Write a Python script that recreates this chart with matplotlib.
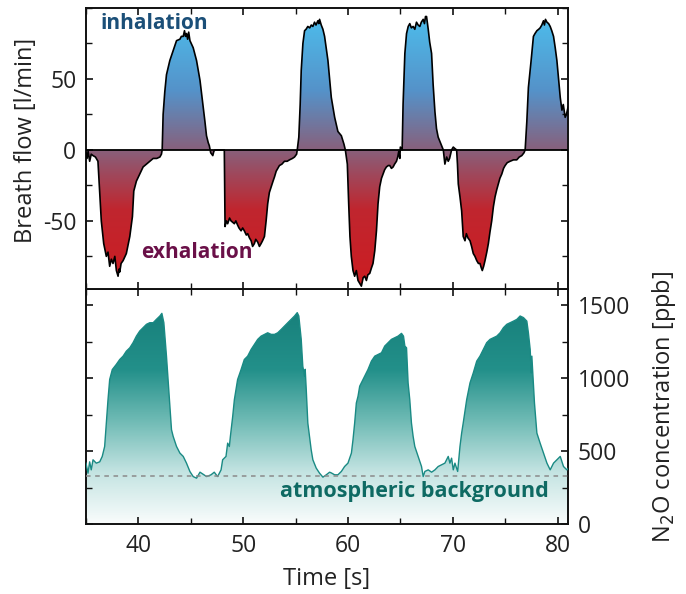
import numpy as np
import matplotlib
matplotlib.use("Agg")
import matplotlib.pyplot as plt
from matplotlib.colors import LinearSegmentedColormap
from matplotlib.ticker import MultipleLocator

plt.rcParams['font.family'] = ['Open Sans', 'DejaVu Sans']
plt.rcParams['axes.unicode_minus'] = False

# ---------------- data ----------------
flow_t = [35.0, 35.1, 35.2, 35.35, 35.5, 35.67, 35.9, 36.14, 36.30, 36.46, 36.69, 36.94, 37.1, 37.26, 37.42,
          37.58, 37.75, 37.90, 38.06, 38.15, 38.22, 38.35, 38.54, 38.85, 39.18, 39.43, 39.56, 39.81, 40.13,
          40.45, 40.77, 41.1, 41.41, 41.75, 42.05, 42.2, 42.27,
          42.36, 42.52, 42.68, 43.0, 43.32, 43.64, 43.96, 44.1, 44.28, 44.4, 44.5, 44.59, 44.7, 44.8, 44.92,
          45.23, 45.55, 45.88, 46.19, 46.35, 46.5, 46.67, 46.77, 46.9, 47.1, 47.2, 47.3, 48.2,
          48.27, 48.4, 48.52, 48.7, 48.84, 49.0, 49.16, 49.3, 49.47, 49.6, 49.80, 49.95, 50.11, 50.3, 50.43,
          50.6, 50.76, 50.9, 51.07, 51.2, 51.39, 51.55, 51.71, 51.85, 52.03, 52.19, 52.34, 52.5, 52.67, 52.85,
          52.99, 53.15, 53.3, 53.46, 53.7, 53.94, 54.2, 54.42, 54.7, 54.90, 55.1, 55.16,
          55.31, 55.44, 55.54, 55.70, 55.86, 56.0, 56.17, 56.35, 56.50, 56.65, 56.81, 56.95, 57.13, 57.22,
          57.29, 57.45, 57.61, 57.77, 58.09, 58.41, 58.73, 59.04, 59.37, 59.62, 59.75,
          59.94, 60.07, 60.19, 60.32, 60.48, 60.64, 60.8, 60.96, 61.12, 61.28, 61.45, 61.6, 61.76, 61.9,
          62.08, 62.25, 62.39, 62.56, 62.72, 62.87, 63.03, 63.2, 63.35, 63.5, 63.67, 63.85, 63.99, 64.15,
          64.31, 64.45, 64.63, 64.75, 64.85, 64.95, 65.0, 65.17,
          65.26, 65.43, 65.59, 65.75, 65.90, 66.05, 66.22, 66.38, 66.54, 66.7, 66.86, 67.0, 67.18, 67.3,
          67.40, 67.50, 67.66, 67.8, 67.98, 68.13, 68.30, 68.45, 68.61, 68.94, 69.1, 69.25, 69.42, 69.57,
          69.7, 69.89, 70.05, 70.2, 70.37,
          70.45, 70.53, 70.69, 70.85, 71.0, 71.17, 71.3, 71.45, 71.65, 71.8, 71.96, 72.12, 72.29, 72.45,
          72.60, 72.72, 72.82, 72.95, 73.08, 73.25, 73.40, 73.55, 73.72, 73.88, 74.04, 74.2, 74.35, 74.5,
          74.68, 74.85, 75.0, 75.2, 75.47, 75.8, 76.11, 76.35, 76.59, 76.8, 76.91,
          77.07, 77.22, 77.48, 77.70, 77.85, 78.03, 78.2, 78.34, 78.5, 78.66, 78.75, 78.85, 78.99, 79.15,
          79.30, 79.45, 79.62, 79.78, 79.94, 80.1, 80.26, 80.42, 80.55, 80.73, 80.85, 81.0]
flow_v = [-2, -6, -1, -8, -3, -4, -5, -8, -29, -50, -66, -75, -72, -82, -77,
          -80, -75, -85, -89, -84, -86, -80, -78, -73, -61, -47, -29, -22, -17,
          -12, -10, -8, -6, -6, -5, -3, 0,
          25, 41, 53, 63, 70, 77, 78, 80, 80, 84, 80, 82, 78, 83, 77,
          72, 63, 49, 30, 20, 10, 5, 3, -2, -4, -1, 0, 0,
          -54, -50, -52, -48, -50, -51, -52, -50, -53, -55, -57, -55, -57, -60, -59,
          -62, -64, -68, -66, -63, -65, -68, -66, -64, -61, -50, -38, -30, -26, -22,
          -19, -15, -13, -11, -10, -8, -8, -7, -6, -5, -3, 0,
          9, 32, 56, 75, 84, 85, 87, 86, 88, 87, 90, 88, 91, 89,
          92, 88, 85, 80, 63, 37, 23, 13, 10, 4, 0,
          -10, -38, -61, -75, -85, -89, -85, -92, -94, -96, -90, -89, -92, -88,
          -87, -83, -80, -71, -57, -38, -26, -20, -17, -14, -12, -11, -11, -13,
          -12, -10, -8, -5, -1, -6, 2, 0,
          32, 68, 82, 87, 89, 86, 87, 85, 90, 88, 87, 90, 92, 89,
          94, 94, 85, 76, 68, 46, 27, 15, 9, 3, 0, -10, -5, -8,
          -6, 0, 2, 1, 0,
          -10, -24, -33, -43, -61, -64, -59, -62, -64, -68, -73, -75, -78, -80,
          -80, -83, -85, -82, -78, -72, -66, -58, -50, -40, -33, -28, -24, -20,
          -17, -13, -11, -9, -8, -7, -7, -5, -4, -2, 0,
          20, 44, 63, 80, 82, 84, 85, 86, 88, 91, 88, 92, 90, 89,
          87, 84, 80, 72, 63, 50, 37, 28, 32, 23, 25, 30]

conc_t = [35.0, 35.19, 35.35, 35.50, 35.67, 35.98, 36.31, 36.55, 36.78, 36.94, 37.10, 37.26, 37.51, 37.89,
          38.22, 38.54, 38.85, 39.18, 39.49, 39.81, 40.13, 40.45, 40.77, 41.09, 41.41, 41.72, 42.05, 42.24,
          42.43, 42.68, 42.94, 43.16, 43.32, 43.64, 43.96, 44.28, 44.59, 44.92, 45.23, 45.55, 45.88, 46.19,
          46.51, 46.93, 47.24, 47.56, 47.89, 48.04, 48.36, 48.52, 48.68, 48.78, 49.0, 49.16, 49.47, 49.80,
          50.11, 50.43, 50.76, 51.07, 51.39, 51.71, 52.03, 52.34, 52.67, 52.99, 53.30, 53.63, 53.94, 54.26,
          54.58, 54.90, 55.16, 55.31, 55.54, 55.69, 55.86, 55.92, 56.02, 56.17, 56.33, 56.49, 56.65, 56.97,
          57.29, 57.61, 57.93, 58.25, 58.41, 58.73, 59.04, 59.37, 59.68, 60.0, 60.33, 60.48, 60.64, 60.80,
          60.96, 61.12, 61.28, 61.60, 61.91, 62.24, 62.56, 62.87, 63.20, 63.51, 63.83, 64.15, 64.47, 64.78,
          65.11, 65.30, 65.43, 65.59, 65.74, 65.90, 66.06, 66.22, 66.38, 66.70, 67.02, 67.18, 67.34, 67.66,
          67.98, 68.30, 68.61, 68.94, 69.25, 69.57, 69.73, 69.89, 70.05, 70.21, 70.47, 70.69, 70.85, 71.0,
          71.33, 71.65, 71.96, 72.29, 72.60, 72.92, 73.24, 73.56, 73.88, 74.20, 74.52, 74.84, 75.16, 75.48,
          75.80, 76.12, 76.43, 76.75, 77.07, 77.22, 77.39, 77.50, 77.55, 77.80, 78.03, 78.34, 78.66, 78.99,
          79.30, 79.62, 79.94, 80.26, 80.57, 80.89, 81.0]
conc_v = [417, 348, 426, 371, 440, 417, 426, 463, 531, 692, 852, 990, 1058, 1093,
          1127, 1150, 1184, 1207, 1242, 1287, 1322, 1345, 1368, 1379, 1379, 1402, 1425, 1443,
          1379, 1150, 875, 646, 600, 531, 486, 463, 417, 359, 325, 314, 355, 340,
          325, 337, 355, 325, 371, 440, 463, 554, 531, 600, 737, 852, 990, 1058,
          1127, 1150, 1196, 1230, 1265, 1287, 1299, 1310, 1299, 1299, 1310, 1333, 1356, 1379,
          1402, 1425, 1448, 1425, 1265, 1081, 1012, 1060, 921, 692, 600, 509, 440, 383,
          348, 321, 337, 355, 350, 337, 337, 360, 394, 417, 486, 577, 692, 829,
          875, 944, 967, 1012, 1058, 1116, 1150, 1161, 1173, 1219, 1242, 1265, 1276, 1287,
          1306, 1287, 1219, 1207, 967, 852, 692, 600, 531, 463, 394, 325, 360, 371,
          355, 371, 394, 406, 417, 463, 417, 451, 371, 417, 360, 531, 623, 692,
          852, 967, 1035, 1116, 1150, 1196, 1242, 1265, 1276, 1287, 1310, 1345, 1368, 1379,
          1390, 1402, 1425, 1414, 1390, 1310, 1196, 1035, 1150, 829, 623, 554, 486, 417,
          371, 417, 440, 463, 394, 371, 380]

background_ppb = 332
flow_yticks = [-50, 0, 50]
conc_yticks = [0, 500, 1000, 1500]
time_ticks = [40, 50, 60, 70, 80]

# ---------------- figure ----------------
fig = plt.figure(figsize=(6.86, 5.94), dpi=100)
L, W = 86 / 686, 482 / 686
ax1 = fig.add_axes([L, 1 - 289 / 594, W, 281 / 594])
ax2 = fig.add_axes([L, 1 - 524 / 594, W, 235 / 594], sharex=ax1)

xlim = (35, 81)
ylim1 = (-98, 100)
ylim2 = (0, 1610)

# --- top: breath flow with gradient ---
cmap_flow = LinearSegmentedColormap.from_list(
    "flow", [(0.0, "#cc1d22"), (0.28, "#c0262f"), (0.5, "#88607b"),
             (0.72, "#5592c9"), (1.0, "#4dbdec")])
grad = np.linspace(-1, 1, 400).reshape(-1, 1)
poly = ax1.fill_between(flow_t, 0, flow_v, facecolor="none", edgecolor="none")
im = ax1.imshow(grad, cmap=cmap_flow, aspect="auto", origin="lower",
                extent=[xlim[0], xlim[1], -95, 95], vmin=-1, vmax=1, zorder=1)
path = poly.get_paths()[0]
im.set_clip_path(path, transform=ax1.transData)
ax1.plot(flow_t, flow_v, color="black", lw=1.2, zorder=3)
ax1.axhline(0, color="black", lw=1.3, zorder=3)
ax1.set_xlim(*xlim)
ax1.set_ylim(*ylim1)
ax1.set_yticks(flow_yticks)
ax1.yaxis.set_minor_locator(MultipleLocator(25))
ax1.set_ylabel("Breath flow [l/min]", fontsize=17, color="#222222")
ax1.yaxis.set_label_coords(-0.1, 0.53)
ax1.text(41.5, 89, "inhalation", color="#1b4f78", fontsize=15, fontweight="bold",
         ha="center", va="center", zorder=5)
ax1.text(45.6, -72, "exhalation", color="#6a1048", fontsize=15, fontweight="bold",
         ha="center", va="center", zorder=5)

# --- bottom: N2O concentration ---
cmap_conc = LinearSegmentedColormap.from_list(
    "conc", [(0.0, "#f9fcfc"), (0.22, "#c4e4e2"), (0.45, "#6cb9b3"),
             (0.66, "#23908a"), (1.0, "#137b76")])
grad2 = np.linspace(0, 1, 400).reshape(-1, 1)
poly2 = ax2.fill_between(conc_t, 0, conc_v, facecolor="none", edgecolor="none")
im2 = ax2.imshow(grad2, cmap=cmap_conc, aspect="auto", origin="lower",
                 extent=[xlim[0], xlim[1], 0, 1600], vmin=0, vmax=1, zorder=1)
im2.set_clip_path(poly2.get_paths()[0], transform=ax2.transData)
ax2.plot(conc_t, conc_v, color="#1a8a84", lw=1.0, zorder=3)
ax2.axhline(background_ppb, color="#8a8a8a", lw=1.1, ls=(0, (3, 3)), zorder=4)
ax2.text(66.3, 220, "atmospheric background", color="#0e6a63", fontsize=15.5,
         fontweight="bold", ha="center", va="center", zorder=5)
ax2.set_xlim(*xlim)
ax2.set_ylim(*ylim2)
ax2.set_yticks(conc_yticks)
ax2.yaxis.set_minor_locator(MultipleLocator(250))
ax2.set_xticks(time_ticks)
ax2.xaxis.set_minor_locator(MultipleLocator(5))
ax2.set_xlabel("Time [s]", fontsize=17, color="#222222", labelpad=7)
ax2.yaxis.set_label_position("right")
ax2.set_ylabel("N$_2$O concentration [ppb]", fontsize=17, color="#222222", labelpad=14)

for ax in (ax1, ax2):
    for sp in ax.spines.values():
        sp.set_linewidth(1.4)
        sp.set_color("#111111")
    ax.tick_params(which="both", direction="in", top=True, bottom=True, left=True, right=True,
                   colors="#111111", labelcolor="#222222", labelsize=16.5)
    ax.tick_params(which="major", length=5, width=1.2, pad=7)
    ax.tick_params(which="minor", length=4, width=1.0)

ax1.tick_params(labelbottom=False)
ax2.tick_params(labelleft=False, labelright=True)
ax1.set_zorder(2)

fig.savefig("out.png", dpi=100)
